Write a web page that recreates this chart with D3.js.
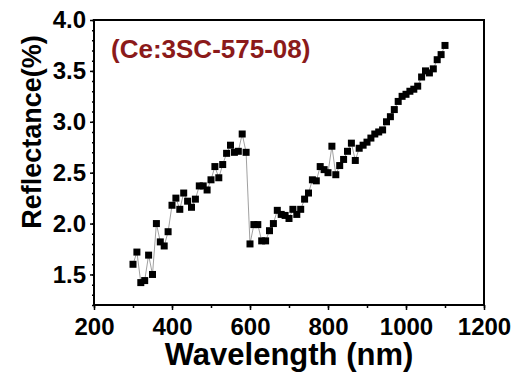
<!DOCTYPE html>
<html>
<head>
<meta charset="utf-8">
<script src="https://cdn.jsdelivr.net/npm/d3@7"></script>
<style>
  body { margin: 0; background: #fff; }
  text { font-family: "Liberation Sans", Arial, sans-serif; font-weight: bold; }
</style>
</head>
<body>
<div id="reflPlot"></div>
<script>
// wavelength (nm) and reflectance (%)
var wavelengths = [300, 310, 320, 330, 340, 350, 360, 370, 380, 390,
                   400, 410, 420, 430, 440, 450, 460, 470, 480, 490,
                   500, 510, 520, 530, 540, 550, 560, 570, 580, 590,
                   600, 610, 620, 630, 640, 650, 660, 670, 680, 690,
                   700, 710, 720, 730, 740, 750, 760, 770, 780, 790,
                   800, 810, 820, 830, 840, 850, 860, 870, 880, 890,
                   900, 910, 920, 930, 940, 950, 960, 970, 980, 990,
                   1000, 1010, 1020, 1030, 1040, 1050, 1060, 1070, 1080, 1090, 1100]
var reflectance = [1.60, 1.72, 1.42, 1.44, 1.69, 1.50, 2.00, 1.82, 1.78, 1.92,
                   2.18, 2.25, 2.14, 2.30, 2.22, 2.16, 2.24, 2.37, 2.37, 2.33,
                   2.43, 2.56, 2.45, 2.58, 2.69, 2.77, 2.70, 2.71, 2.88, 2.70,
                   1.80, 1.99, 1.99, 1.83, 1.83, 1.93, 2.00, 2.13, 2.09, 2.08,
                   2.05, 2.14, 2.09, 2.14, 2.24, 2.30, 2.43, 2.42, 2.56, 2.53,
                   2.50, 2.76, 2.48, 2.57, 2.63, 2.71, 2.79, 2.62, 2.74, 2.77,
                   2.80, 2.84, 2.88, 2.90, 2.92, 3.00, 3.05, 3.12, 3.20, 3.25,
                   3.27, 3.30, 3.32, 3.35, 3.44, 3.50, 3.48, 3.52, 3.61, 3.66, 3.75]
var xTicks = [200, 400, 600, 800, 1000, 1200]
var yTicks = [1.5, 2.0, 2.5, 3.0, 3.5, 4.0]
var sampleLabel = "(Ce:3SC-575-08)"

var outerWidth = 521, outerHeight = 381
var margins = {left: 94, right: 37, top: 20, bottom: 76}
var innerWidth = outerWidth - margins.left - margins.right
var innerHeight = outerHeight - margins.top - margins.bottom

var data = wavelengths.map(function(w, i){ return {x: w, y: reflectance[i]} })

var svg = d3.select("#reflPlot").append("svg")
            .attr("width", outerWidth)
            .attr("height", outerHeight)

var plot = svg.append("g")
            .attr("transform", "translate(" + margins.left + "," + margins.top + ")")

var xScale = d3.scaleLinear().domain([200, 1200]).range([0, innerWidth])
var yScale = d3.scaleLinear().domain([1.2, 4.0]).range([innerHeight, 0])

// minor ticks first (no labels), then the labelled ones
plot.append("g")
    .attr("class", "minor")
    .attr("transform", "translate(0," + innerHeight + ")")
    .call(d3.axisBottom(xScale).tickValues(d3.range(200, 1201, 100)).tickSize(3))
plot.append("g")
    .attr("transform", "translate(0," + innerHeight + ")")
    .call(d3.axisBottom(xScale).tickValues(xTicks).tickSize(5).tickPadding(8).tickFormat(d3.format("d")))
    .attr("font-size", "24px")

plot.append("g")
    .attr("class", "minor")
    .call(d3.axisLeft(yScale).tickValues(d3.range(12, 41).map(function(v){ return v / 10 })).tickSize(2))
plot.append("g")
    .call(d3.axisLeft(yScale).tickValues(yTicks).tickSize(4).tickPadding(4).tickFormat(d3.format(".1f")))
    .attr("font-size", "24px")

plot.selectAll(".minor text").remove()
plot.selectAll(".domain").remove()
plot.selectAll(".tick line").attr("stroke", "#000").attr("stroke-width", 1.5)
plot.selectAll(".tick text").attr("fill", "#000").style("font-family", "'Liberation Sans', Arial, sans-serif")

// frame
plot.append("rect")
    .attr("width", innerWidth)
    .attr("height", innerHeight)
    .attr("fill", "none")
    .attr("stroke", "#000")
    .attr("stroke-width", 2)

var line = d3.line()
    .x(function(d){ return xScale(d.x) })
    .y(function(d){ return yScale(d.y) })

plot.append("path")
    .datum(data)
    .attr("d", line)
    .attr("fill", "none")
    .attr("stroke", "#888")
    .attr("stroke-width", 0.8)

plot.selectAll(".point")
    .data(data)
    .enter()
    .append("rect")
    .attr("class", "point")
    .attr("x", function(d){ return xScale(d.x) - 3.5 })
    .attr("y", function(d){ return yScale(d.y) - 3.5 })
    .attr("width", 7)
    .attr("height", 7)
    .attr("fill", "#000")

svg.append("text")
    .attr("x", 111)
    .attr("y", 58)
    .attr("font-size", "26px")
    .attr("fill", "#8b1a1a")
    .text(sampleLabel)

svg.append("text")
    .attr("x", margins.left + innerWidth / 2)
    .attr("y", 365)
    .attr("text-anchor", "middle")
    .attr("font-size", "31px")
    .text("Wavelength (nm)")

svg.append("text")
    .attr("transform", "translate(41,132) rotate(-90)")
    .attr("text-anchor", "middle")
    .attr("font-size", "27px")
    .text("Reflectance(%)")
</script>
</body>
</html>
